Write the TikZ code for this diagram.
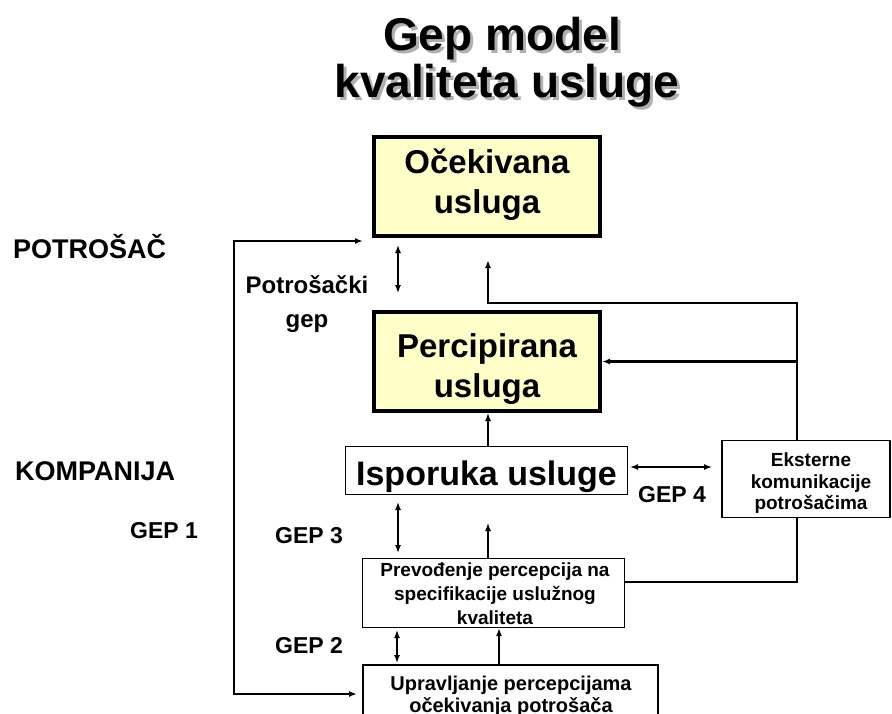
\documentclass[tikz,border=0pt]{standalone}
\usepackage{fontspec}
\setmainfont{Liberation Sans}
\usetikzlibrary{arrows.meta}
\definecolor{boxyellow}{RGB}{255,255,200}
\definecolor{shadowgray}{RGB}{175,175,175}
\newcommand{\myfs}[2]{\fontsize{#1}{#2}\selectfont\bfseries}
\begin{document}
\begin{tikzpicture}[x=1pt,y=-1pt,
  ybox/.style={draw, line width=4pt, fill=boxyellow, inner sep=0pt},
  wbox/.style={draw, line width=1.3pt, fill=white, inner sep=0pt},
  txt/.style={inner sep=0pt, align=center},
  lbl/.style={inner sep=0pt, anchor=base west},
  thinline/.style={line width=1.4pt},
  thkline/.style={line width=2.6pt},
  >={Latex[length=8pt,width=6pt]}]
\useasboundingbox (0,0) rectangle (892,713);

% title with shadow
\node[txt, anchor=base, font=\myfs{46}{47}, text=shadowgray] (t1s) at (505,53) {Gep model};
\node[txt, anchor=base, font=\myfs{46}{47}, text=shadowgray] (t2s) at (510,100) {kvaliteta usluge};
\node[txt, anchor=base, font=\myfs{46}{47}] (t1) at (502,50) {Gep model};
\node[txt, anchor=base, font=\myfs{46}{47}] (t2) at (507,97) {kvaliteta usluge};

% boxes
\node[ybox, minimum width=226pt, minimum height=99pt] (oc) at (487,186.5) {};
\node[txt, font=\myfs{33}{40}] (octxt) at (487,185) {Očekivana\\usluga};

\node[ybox, minimum width=226pt, minimum height=99pt] (pe) at (487,361.5) {};
\node[txt, font=\myfs{33}{40}] (petxt) at (487,369) {Percipirana\\usluga};

\node[wbox, minimum width=282pt, minimum height=48pt] (is) at (486.5,470.5) {};
\node[txt, anchor=base, font=\myfs{34}{40}] (istxt) at (486.5,485) {Isporuka usluge};

\node[wbox, minimum width=168pt, minimum height=77pt] (ek) at (806,479) {};
\node[txt, font=\myfs{19}{21.5}] (ektxt) at (811,483.5) {Eksterne\\komunikacije\\potrošačima};

\node[wbox, minimum width=262pt, minimum height=69pt] (pr) at (493.5,593) {};
\node[txt, font=\myfs{19}{24}] (prtxt) at (495,594) {Prevođenje percepcija na\\specifikacije uslužnog\\kvaliteta};

\node[wbox, minimum width=295pt, minimum height=66pt] (up) at (510.5,698) {};
\node[txt, font=\myfs{20}{22}] (uptxt) at (511,696) {Upravljanje percepcijama\\očekivanja potrošača};

% side labels
\node[lbl, font=\myfs{27}{30}] (potr) at (13,258) {POTROŠAČ};
\node[lbl, font=\myfs{27}{30}] (komp) at (15,480) {KOMPANIJA};
\node[lbl, font=\myfs{23}{26}] (g1) at (130,538) {GEP 1};
\node[lbl, font=\myfs{23}{26}] (g3) at (275,543) {GEP 3};
\node[lbl, font=\myfs{23}{26}] (g2) at (275,653) {GEP 2};
\node[lbl, font=\myfs{23}{26}] (g4) at (638,502) {GEP 4};
\node[txt, font=\myfs{24}{34}] (pg) at (307,304) {Potrošački\\gep};

% coordinates
\coordinate (l1tip) at (363,241);
\coordinate (l1a) at (234,241);
\coordinate (l1b) at (234,694);
\coordinate (l1end) at (357,694);
\coordinate (pga) at (398,245);
\coordinate (pgb) at (398,293);
\coordinate (r1) at (797,303);
\coordinate (r2) at (488,303);
\coordinate (r3) at (488,260);
\coordinate (r4) at (797,582);
\coordinate (g4a) at (630,467);
\coordinate (g4b) at (712,467);
\coordinate (g3a) at (398,502);
\coordinate (g3b) at (398,553);
\coordinate (prup) at (488,523);
\coordinate (g2a) at (397,630);
\coordinate (g2b) at (397,663);

% connectors
\draw[thkline, <->] (l1tip) -- (l1a) -- (l1b) -- (l1end);
\draw[thinline, <->] (pga) -- (pgb);
\draw[thkline, ->] (ek.north -| r1) -- (r1) -- (r2) -- (r3);
\draw[thkline, ->] (r1 |- pe.east) -- (pe.east);
\draw[thkline] (ek.south -| r1) -- (r4) -- (r4 -| pr.east);
\draw[thinline, ->] (is.north -| r2) -- (pe.south -| r2);
\draw[thinline, <->] (g4a) -- (g4b);
\draw[thinline, <->] (g3a) -- (g3b);
\draw[thinline, ->] (pr.north -| prup) -- (prup);
\draw[thinline, <->] (g2a) -- (g2b);
\draw[thinline, ->] (up.north -| 499,0) -- (pr.south -| 499,0);
\end{tikzpicture}
\end{document}
